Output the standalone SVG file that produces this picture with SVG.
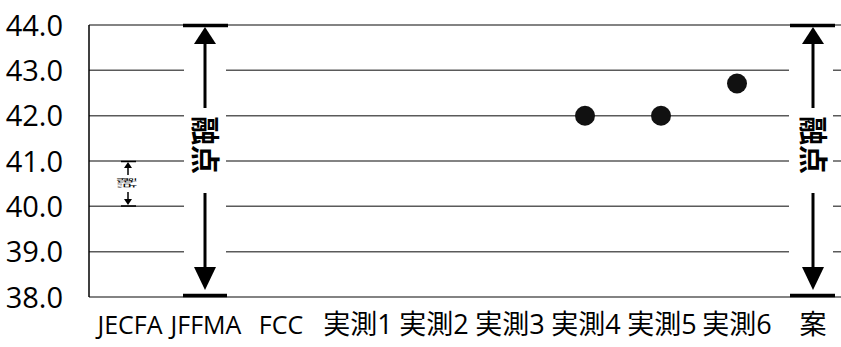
<svg xmlns="http://www.w3.org/2000/svg" width="841" height="347" viewBox="0 0 841 347">
<style>
.grid{stroke:#5a5a5a;stroke-width:1.5;fill:none}
.axis{stroke:#000;stroke-width:1.5;fill:none}
.ylab{font-family:"Open Sans","Noto Sans",sans-serif;font-size:29px;fill:#000;text-anchor:end}
.xlab{font-family:"Open Sans","Noto Sans CJK JP",sans-serif;font-size:25px;fill:#000;text-anchor:middle}
.xcjk{font-family:"Open Sans","Noto Sans CJK JP",sans-serif;font-size:27px;fill:#000;text-anchor:middle}
.stem{stroke:#000;stroke-width:3;fill:none}
.bar{stroke:#000;stroke-width:3.5;fill:none}
.head{fill:#000}
.gap{fill:#fff}
.vt{font-family:"Noto Sans CJK JP",sans-serif;font-size:29px;font-weight:bold;fill:#000;text-anchor:middle}
.dot{fill:#111}
</style>
<rect width="841" height="347" fill="#fff"/>
<g id="gridlines">
<line class="grid" x1="89" y1="25" x2="841" y2="25"/>
<line class="grid" x1="89" y1="70.3" x2="841" y2="70.3"/>
<line class="grid" x1="89" y1="115.7" x2="841" y2="115.7"/>
<line class="grid" x1="89" y1="161" x2="841" y2="161"/>
<line class="grid" x1="89" y1="206.3" x2="841" y2="206.3"/>
<line class="grid" x1="89" y1="251.7" x2="841" y2="251.7"/>
<line class="grid" x1="89" y1="297" x2="841" y2="297"/>
<line class="axis" x1="89" y1="25" x2="89" y2="297"/>
</g>
<g id="y-labels">
<text class="ylab" x="63" y="35.5">44.0</text>
<text class="ylab" x="63" y="80.8">43.0</text>
<text class="ylab" x="63" y="126.2">42.0</text>
<text class="ylab" x="63" y="171.5">41.0</text>
<text class="ylab" x="63" y="216.8">40.0</text>
<text class="ylab" x="63" y="262.2">39.0</text>
<text class="ylab" x="63" y="307.5">38.0</text>
</g>
<g id="x-labels">
<text class="xlab" x="130" y="334">JECFA</text>
<text class="xlab" x="206" y="334">JFFMA</text>
<text class="xlab" x="281" y="334">FCC</text>
<text class="xcjk" x="358" y="334">実測1</text>
<text class="xcjk" x="434" y="334">実測2</text>
<text class="xcjk" x="510" y="334">実測3</text>
<text class="xcjk" x="586" y="334">実測4</text>
<text class="xcjk" x="662" y="334">実測5</text>
<text class="xcjk" x="737" y="334">実測6</text>
<text class="xcjk" x="813" y="334">案</text>
</g>
<g id="range-jecfa">
<line class="axis" x1="121" y1="161.5" x2="136" y2="161.5"/>
<line class="axis" x1="121" y1="206" x2="136" y2="206"/>
<line x1="128" y1="167" x2="128" y2="175" stroke="#000" stroke-width="1.5"/>
<polygon class="head" points="128,162 124,168 132,168"/>
<line x1="128" y1="192" x2="128" y2="200" stroke="#000" stroke-width="1.5"/>
<polygon class="head" points="128,205 124,199 132,199"/>
<text transform="translate(128,183) rotate(90) scale(0.5,2)" font-family="Noto Sans CJK JP,sans-serif" font-size="10" text-anchor="middle" dominant-baseline="central" fill="#000">融点</text>
</g>
<g id="range-jffma">
<rect class="gap" x="184" y="27" width="42" height="267"/>
<line class="bar" x1="183" y1="25.5" x2="228" y2="25.5"/>
<line class="bar" x1="183" y1="295.5" x2="227" y2="295.5"/>
<polygon class="head" points="205,27 194,44 216,44"/>
<line class="stem" x1="205" y1="43" x2="205" y2="108"/>
<line class="stem" x1="205" y1="193" x2="205" y2="268"/>
<polygon class="head" points="205,290 194,267 216,267"/>
<text class="vt" transform="translate(194,145) rotate(90)">融点</text>
</g>
<g id="range-an">
<rect class="gap" x="789" y="27" width="44" height="267"/>
<line class="bar" x1="790" y1="25.5" x2="835" y2="25.5"/>
<line class="bar" x1="790" y1="295.5" x2="835" y2="295.5"/>
<polygon class="head" points="813,27 802,44 824,44"/>
<line class="stem" x1="813" y1="43" x2="813" y2="108"/>
<line class="stem" x1="813" y1="193" x2="813" y2="268"/>
<polygon class="head" points="813,290 802,267 824,267"/>
<text class="vt" transform="translate(802,145) rotate(90)">融点</text>
</g>
<g id="points">
<circle class="dot" cx="585" cy="115.7" r="10"/>
<circle class="dot" cx="661" cy="115.7" r="10"/>
<circle class="dot" cx="737" cy="83.5" r="10"/>
</g>
</svg>
